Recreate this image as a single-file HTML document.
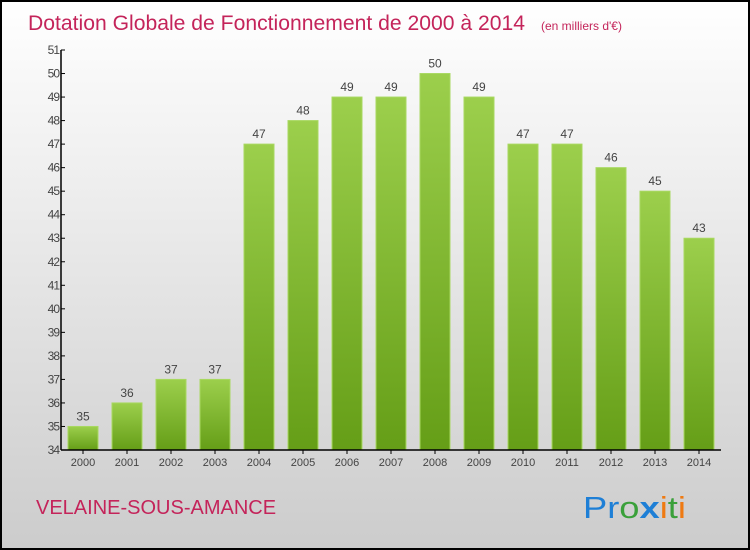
<!DOCTYPE html>
<html><head><meta charset="utf-8"><style>
body{margin:0}
#c{width:750px;height:550px;position:relative;overflow:hidden;font-family:"Liberation Sans",sans-serif}
</style></head><body>
<div id="c">
<svg id="s" width="750" height="550" xmlns="http://www.w3.org/2000/svg">
<defs>
<linearGradient id="bg" x1="0" y1="0" x2="0" y2="1"><stop offset="0" stop-color="#ffffff"/><stop offset="1" stop-color="#cccccc"/></linearGradient>
<linearGradient id="bar" x1="0" y1="0" x2="0" y2="1"><stop offset="0" stop-color="#9ccf4c"/><stop offset="1" stop-color="#659e17"/></linearGradient>
</defs>
<rect x="1" y="1" width="748" height="548" fill="url(#bg)" stroke="#000" stroke-width="2"/>
<text x="28" y="30" font-size="21" fill="#c4245a"><tspan textLength="497" lengthAdjust="spacingAndGlyphs">Dotation Globale de Fonctionnement de 2000 à 2014</tspan><tspan font-size="12" x="541">(en milliers d'€)</tspan></text>
<text x="36" y="514" font-size="20" fill="#c4245a">VELAINE-SOUS-AMANCE</text>
<g id="plot"></g>
<text x="583" y="518" font-size="31" textLength="103" lengthAdjust="spacingAndGlyphs"><tspan fill="#1e7fd6">Pr</tspan><tspan fill="#3aa03a">o</tspan><tspan fill="#1e7fd6" font-weight="bold">x</tspan><tspan fill="#ef7a12">i</tspan><tspan fill="#3aa03a">t</tspan><tspan fill="#ef7a12">i</tspan></text>
</svg>
</div>
<script>
const years=["2000","2001","2002","2003","2004","2005","2006","2007","2008","2009","2010","2011","2012","2013","2014"];
const values=[35,36,37,37,47,48,49,49,50,49,47,47,46,45,43];
const yTicks=[34,35,36,37,38,39,40,41,42,43,44,45,46,47,48,49,50,51];
const NS="http://www.w3.org/2000/svg";
const g=document.getElementById('plot');
const x0=61,x1=721,yTop=50,yBot=450,vMin=34,vMax=51;
const band=(x1-x0)/years.length;
function y(v){return yBot-(v-vMin)/(vMax-vMin)*(yBot-yTop);}
function xc(i){return x0+band*(i+0.5);}
function mk(t,a){const e=document.createElementNS(NS,t);for(const k in a)e.setAttribute(k,a[k]);g.appendChild(e);return e;}
values.forEach((v,i)=>{
 const r=mk('rect',{x:xc(i)-15,y:y(v),width:30,height:yBot-y(v),fill:'url(#bar)',stroke:'#a8d860','stroke-width':1});
 
 
 const t=mk('text',{x:xc(i),y:y(v)-6,'text-anchor':'middle','font-size':12,fill:'#444'});
 t.textContent=v;
 
 
 const xl=mk('text',{x:xc(i),y:yBot+16,'text-anchor':'middle','font-size':11,fill:'#444'});
 xl.textContent=years[i];
 
 
 const tk=mk('line',{x1:xc(i),x2:xc(i),y1:yBot,y2:yBot+4,stroke:'#000'});
 
 
});
yTicks.forEach(v=>{
 const l=mk('line',{x1:x0,x2:x0+4,y1:y(v),y2:y(v),stroke:'#000'});
 
 
 const t=mk('text',{x:x0-2,y:y(v)+4,'text-anchor':'end','font-size':12,fill:'#444','letter-spacing':'-1'});
 t.textContent=v;
 
 
});
const ya=mk('line',{x1:x0,x2:x0,y1:yTop,y2:yBot,stroke:'#000','stroke-width':1.5});


const xa=mk('line',{x1:x0,x2:x1,y1:yBot,y2:yBot,stroke:'#000','stroke-width':1.5});


</script>
</body></html>
